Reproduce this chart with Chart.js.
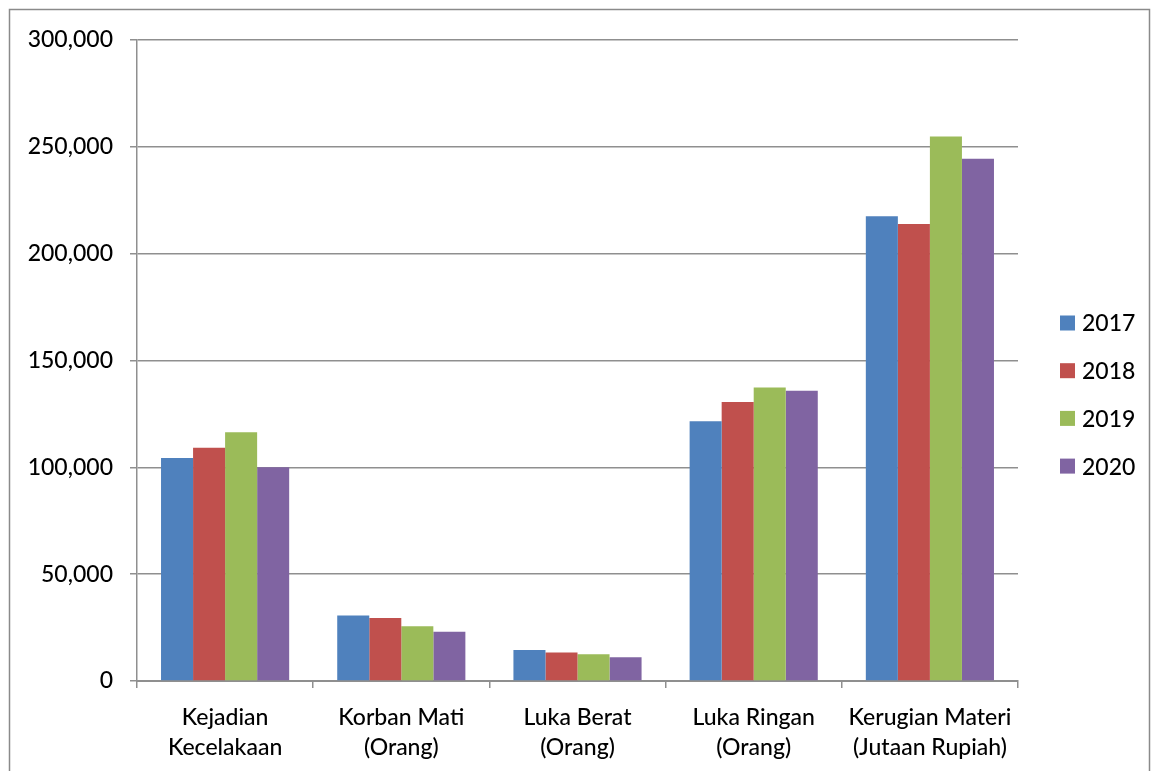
<!DOCTYPE html>
<html>
<head>
<meta charset="utf-8">
<script src="https://cdn.jsdelivr.net/npm/chart.js@4/dist/chart.umd.min.js"></script>
<style>
  html, body { margin: 0; padding: 0; background: #ffffff; }
  #wrap { width: 1156px; height: 771px; position: relative; }
</style>
</head>
<body>
<div id="wrap"><canvas id="c" width="1156" height="771"></canvas></div>
<script>
// Road accident statistics, 2017-2020
const categories = [
  ['Kejadian', 'Kecelakaan'],
  ['Korban Mati', '(Orang)'],
  ['Luka Berat', '(Orang)'],
  ['Luka Ringan', '(Orang)'],
  ['Kerugian Materi', '(Jutaan Rupiah)']
];
const years = ['2017', '2018', '2019', '2020'];
const values2017 = [104327, 30694, 14559, 121575, 217469];
const values2018 = [109215, 29472, 13315, 130571, 213866];
const values2019 = [116411, 25671, 12475, 137342, 254779];
const values2020 = [100028, 23000, 11100, 135800, 244400];
const yTicks = [0, 50000, 100000, 150000, 200000, 250000, 300000];

const colors = ['#4F81BD', '#C0504D', '#9BBB59', '#8064A2'];
const series = [values2017, values2018, values2019, values2020];

const FONT = 'Lato, "Open Sans", sans-serif';
const GRID = '#8f8f8f';

// Frame around the whole chart
const framePlugin = {
  id: 'frame',
  beforeDraw(chart) {
    const ctx = chart.ctx;
    ctx.save();
    ctx.fillStyle = '#ffffff';
    ctx.fillRect(0, 0, chart.width, chart.height);
    ctx.strokeStyle = '#8a8a8a';
    ctx.lineWidth = 1.5;
    ctx.strokeRect(9.5, 9.5, 1140, 800);
    ctx.restore();
  }
};

// Legend on the right, one row per year
const sideLegend = {
  id: 'sideLegend',
  afterDraw(chart) {
    const ctx = chart.ctx;
    ctx.save();
    ctx.font = '500 23px ' + FONT;
    ctx.textBaseline = 'middle';
    ctx.textAlign = 'left';
    chart.data.datasets.forEach((ds, i) => {
      const cy = 323 + i * 47.7;
      ctx.fillStyle = ds.backgroundColor;
      ctx.fillRect(1060, cy - 7.5, 15, 15);
      ctx.fillStyle = '#000000';
      ctx.fillText(ds.label, 1082, cy + 1);
    });
    ctx.restore();
  }
};

new Chart(document.getElementById('c'), {
  type: 'bar',
  data: {
    labels: categories,
    datasets: years.map((y, i) => ({
      label: y,
      data: series[i],
      backgroundColor: colors[i],
      borderWidth: 0,
      categoryPercentage: 4 / 5.5,
      barPercentage: 1.0
    }))
  },
  options: {
    responsive: false,
    animation: false,
    devicePixelRatio: 1,
    layout: { padding: { left: 0, right: 138, top: 40, bottom: 0 } },
    plugins: {
      legend: { display: false },
      tooltip: { enabled: false }
    },
    scales: {
      x: {
        offset: true,
        grid: {
          offset: true,
          drawOnChartArea: false,
          drawTicks: true,
          tickLength: 7,
          color: GRID,
          lineWidth: 1.5
        },
        border: { display: true, color: GRID, width: 2 },
        ticks: {
          color: '#000000',
          font: { family: FONT, size: 23, weight: '500', lineHeight: 1.32 },
          padding: 14,
          maxRotation: 0,
          autoSkip: false
        },
        afterFit(scale) { scale.height = 90; }
      },
      y: {
        min: 0,
        max: 300000,
        afterBuildTicks(scale) {
          scale.ticks = yTicks.map(v => ({ value: v }));
        },
        grid: {
          color: GRID,
          lineWidth: 1.5,
          drawTicks: true,
          tickLength: 7
        },
        border: { display: true, color: GRID, width: 1.5 },
        ticks: {
          color: '#000000',
          font: { family: FONT, size: 23, weight: '500' },
          padding: 17,
          callback: v => v.toLocaleString('en-US')
        },
        afterFit(scale) { scale.width = 137; }
      }
    }
  },
  plugins: [framePlugin, sideLegend]
});
</script>
</body>
</html>
